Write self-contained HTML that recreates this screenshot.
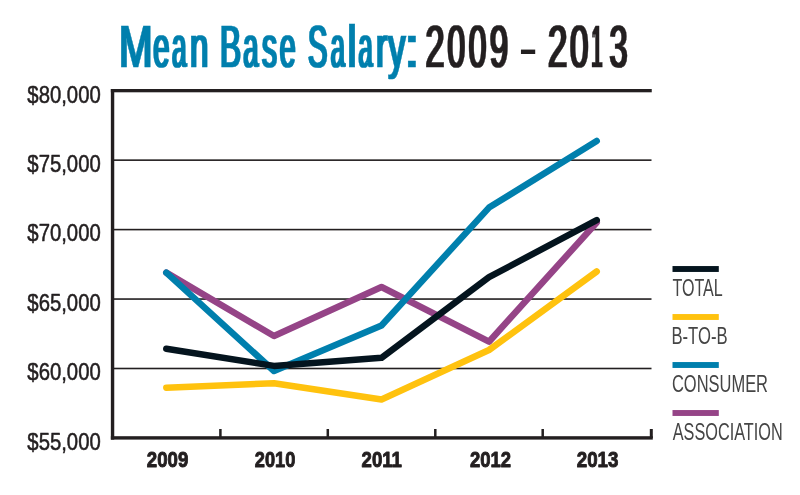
<!DOCTYPE html>
<html><head><meta charset="utf-8"><title>Mean Base Salary: 2009 - 2013</title>
<style>
html,body{margin:0;padding:0;background:#fff;}
body{width:800px;height:495px;overflow:hidden;font-family:"Liberation Sans",sans-serif;}
svg{display:block;}
text{font-family:"Liberation Sans",sans-serif;}
</style></head><body>
<svg width="800" height="495" viewBox="0 0 800 495">
<rect width="800" height="495" fill="#fff"/>
<defs><filter id="fat" x="-5%" y="-20%" width="110%" height="140%" color-interpolation-filters="sRGB"><feMorphology operator="dilate" radius="1 0"/></filter></defs>
<text transform="translate(0 66.60) scale(1 0.6007)" font-size="100" fill="#007fad" filter="url(#fat)" stroke="#007fad" stroke-width="1.0"><tspan x="118.99" textLength="33.45" lengthAdjust="spacingAndGlyphs">M</tspan><tspan x="153.37" textLength="16.15" lengthAdjust="spacingAndGlyphs">e</tspan><tspan x="172.00" textLength="14.43" lengthAdjust="spacingAndGlyphs">a</tspan><tspan x="189.98" textLength="18.30" lengthAdjust="spacingAndGlyphs">n</tspan></text>
<text transform="translate(0 66.60) scale(1 0.6007)" font-size="100" fill="#007fad" filter="url(#fat)" stroke="#007fad" stroke-width="1.0"><tspan x="220.00" textLength="21.04" lengthAdjust="spacingAndGlyphs">B</tspan><tspan x="243.15" textLength="15.08" lengthAdjust="spacingAndGlyphs">a</tspan><tspan x="261.88" textLength="14.97" lengthAdjust="spacingAndGlyphs">s</tspan><tspan x="279.70" textLength="15.74" lengthAdjust="spacingAndGlyphs">e</tspan></text>
<text transform="translate(0 66.60) scale(1 0.6007)" font-size="100" fill="#007fad" filter="url(#fat)" stroke="#007fad" stroke-width="1.0"><tspan x="307.99" textLength="19.37" lengthAdjust="spacingAndGlyphs">S</tspan><tspan x="330.67" textLength="14.11" lengthAdjust="spacingAndGlyphs">a</tspan><tspan x="347.46" textLength="9.01" lengthAdjust="spacingAndGlyphs">l</tspan><tspan x="358.42" textLength="14.11" lengthAdjust="spacingAndGlyphs">a</tspan><tspan x="375.95" textLength="11.32" lengthAdjust="spacingAndGlyphs">r</tspan><tspan x="388.21" textLength="17.07" lengthAdjust="spacingAndGlyphs">y</tspan><tspan x="404.24" textLength="15.21" lengthAdjust="spacingAndGlyphs">:</tspan></text>
<text transform="translate(0 66.60) scale(1 0.5964)" font-size="100" fill="#231f20" filter="url(#fat)" stroke="#231f20" stroke-width="1.0"><tspan x="425.60" textLength="18.95" lengthAdjust="spacingAndGlyphs">2</tspan><tspan x="447.54" textLength="17.59" lengthAdjust="spacingAndGlyphs">0</tspan><tspan x="468.84" textLength="17.59" lengthAdjust="spacingAndGlyphs">0</tspan><tspan x="489.63" textLength="18.40" lengthAdjust="spacingAndGlyphs">9</tspan></text>
<text transform="translate(0 66.60) scale(1 0.5964)" font-size="100" fill="#231f20" filter="url(#fat)" stroke="#231f20" stroke-width="1.0"><tspan x="548.06" textLength="19.31" lengthAdjust="spacingAndGlyphs">2</tspan><tspan x="569.88" textLength="18.40" lengthAdjust="spacingAndGlyphs">0</tspan><tspan x="591.54" textLength="10.80" lengthAdjust="spacingAndGlyphs">1</tspan><tspan x="609.58" textLength="18.03" lengthAdjust="spacingAndGlyphs">3</tspan></text>
<text transform="translate(518.75 61.13) scale(0.5624 0.3667)" font-size="100" font-weight="bold" fill="#231f20">-</text>
<rect x="113" y="159.35" width="538.5" height="1.6" fill="#231f20"/>
<rect x="113" y="228.80" width="538.5" height="1.6" fill="#231f20"/>
<rect x="113" y="298.25" width="538.5" height="1.6" fill="#231f20"/>
<rect x="113" y="367.70" width="538.5" height="1.6" fill="#231f20"/>
<rect x="110.85" y="89.0" width="540.9" height="3.3" fill="#231f20"/>
<rect x="110.85" y="89.0" width="3.4" height="350.6" fill="#231f20"/>
<rect x="110.85" y="436.2" width="541.95" height="3.4" fill="#231f20"/>
<rect x="219.15" y="429" width="2.5" height="8" fill="#231f20"/>
<rect x="326.55" y="429" width="2.5" height="8" fill="#231f20"/>
<rect x="434.05" y="429" width="2.5" height="8" fill="#231f20"/>
<rect x="541.45" y="429" width="2.5" height="8" fill="#231f20"/>
<rect x="649.8" y="429" width="3" height="9" fill="#231f20"/>
<text transform="translate(27.35 102.55) scale(0.2031 0.2380)" font-size="100" fill="#231f20" stroke="#231f20" stroke-width="2.27" stroke-linejoin="round">$80,000</text>
<text transform="translate(27.35 172.00) scale(0.2031 0.2380)" font-size="100" fill="#231f20" stroke="#231f20" stroke-width="2.27" stroke-linejoin="round">$75,000</text>
<text transform="translate(27.35 241.45) scale(0.2031 0.2380)" font-size="100" fill="#231f20" stroke="#231f20" stroke-width="2.27" stroke-linejoin="round">$70,000</text>
<text transform="translate(27.35 310.90) scale(0.2031 0.2380)" font-size="100" fill="#231f20" stroke="#231f20" stroke-width="2.27" stroke-linejoin="round">$65,000</text>
<text transform="translate(27.35 380.35) scale(0.2031 0.2380)" font-size="100" fill="#231f20" stroke="#231f20" stroke-width="2.27" stroke-linejoin="round">$60,000</text>
<text transform="translate(27.35 449.80) scale(0.2031 0.2380)" font-size="100" fill="#231f20" stroke="#231f20" stroke-width="2.27" stroke-linejoin="round">$55,000</text>
<text transform="translate(146.80 467.45) scale(0.1863 0.2222)" font-size="100" font-weight="bold" fill="#231f20" stroke="#231f20" stroke-width="4.41" stroke-linejoin="round">2009</text>
<text transform="translate(254.81 467.45) scale(0.1821 0.2222)" font-size="100" font-weight="bold" fill="#231f20" stroke="#231f20" stroke-width="4.45" stroke-linejoin="round">2010</text>
<text transform="translate(361.60 467.45) scale(0.1862 0.2222)" font-size="100" font-weight="bold" fill="#231f20" stroke="#231f20" stroke-width="4.41" stroke-linejoin="round">2011</text>
<text transform="translate(469.90 467.45) scale(0.1844 0.2222)" font-size="100" font-weight="bold" fill="#231f20" stroke="#231f20" stroke-width="4.43" stroke-linejoin="round">2012</text>
<text transform="translate(576.79 467.45) scale(0.1872 0.2222)" font-size="100" font-weight="bold" fill="#231f20" stroke="#231f20" stroke-width="4.40" stroke-linejoin="round">2013</text>
<polyline points="166.3,272.6 274.0,336.0 381.5,287.0 489.0,341.7 596.7,222.5" fill="none" stroke="#954487" stroke-width="6.5" stroke-linecap="round" stroke-linejoin="round"/>
<polyline points="166.3,272.6 274.0,371.0 381.5,325.5 489.0,207.6 596.7,140.9" fill="none" stroke="#007fad" stroke-width="6.5" stroke-linecap="round" stroke-linejoin="round"/>
<polyline points="166.3,387.7 274.0,383.2 381.5,399.5 489.0,350.0 596.7,271.5" fill="none" stroke="#ffc20e" stroke-width="6.5" stroke-linecap="round" stroke-linejoin="round"/>
<polyline points="166.3,348.8 274.0,365.9 381.5,357.8 489.0,277.2 596.7,220.1" fill="none" stroke="#04141e" stroke-width="6.5" stroke-linecap="round" stroke-linejoin="round"/>
<rect x="672.5" y="266.05" width="46.3" height="5.9" fill="#04141e"/>
<text transform="translate(672.44 295.90) scale(0.1607 0.2342)" font-size="100" fill="#454545">TOTAL</text>
<rect x="672.5" y="314.05" width="46.3" height="5.9" fill="#ffc20e"/>
<text transform="translate(671.43 343.90) scale(0.1666 0.2342)" font-size="100" fill="#454545">B-TO-B</text>
<rect x="672.5" y="362.05" width="46.3" height="5.9" fill="#007fad"/>
<text transform="translate(671.98 391.90) scale(0.1647 0.2342)" font-size="100" fill="#454545">CONSUMER</text>
<rect x="672.5" y="410.05" width="46.3" height="5.9" fill="#954487"/>
<text transform="translate(672.76 439.90) scale(0.1627 0.2342)" font-size="100" fill="#454545">ASSOCIATION</text>
</svg>
</body></html>
